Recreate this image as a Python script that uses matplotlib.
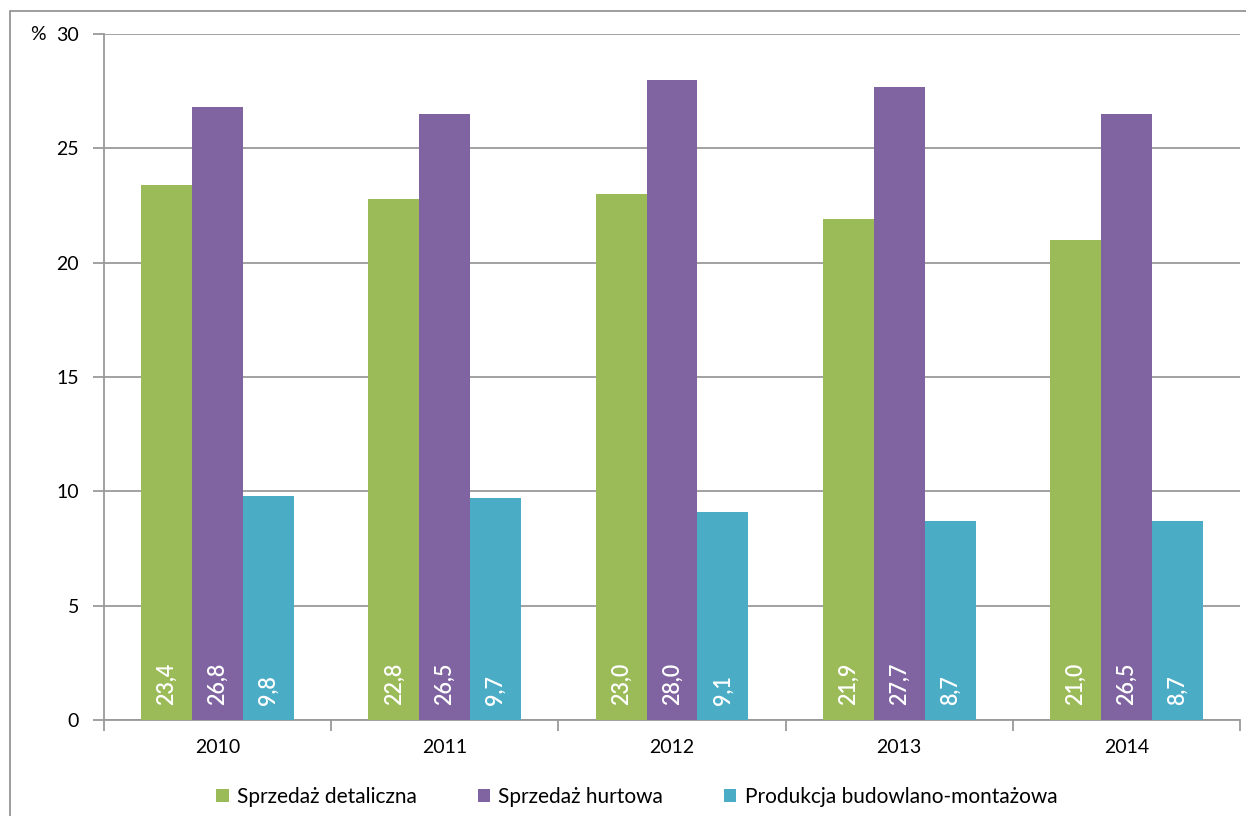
import numpy as np
import matplotlib.pyplot as plt
from matplotlib.patches import Rectangle

plt.rcParams['font.family'] = ['Lato', 'DejaVu Sans']

years = ["2010", "2011", "2012", "2013", "2014"]
detaliczna = [23.4, 22.8, 23.0, 21.9, 21.0]
hurtowa = [26.8, 26.5, 28.0, 27.7, 26.5]
budowlana = [9.8, 9.7, 9.1, 8.7, 8.7]
labels = ["Sprzedaż detaliczna", "Sprzedaż hurtowa", "Produkcja budowlano-montażowa"]
colors = ["#9BBB59", "#8064A2", "#4BACC6"]

fig = plt.figure(figsize=(12.46, 8.16), dpi=100)
ax = fig.add_axes([104 / 1246, 1 - 720 / 816, (1240 - 104) / 1246, (720 - 34) / 816])

# outer frame
fig.patches.append(Rectangle((10 / 1246, -0.1), 1.2, 1 - 11 / 816 + 0.1, transform=fig.transFigure,
                             fill=False, edgecolor="#8c8c8c", linewidth=1.2))

x = np.arange(len(years))
w = 0.224
series = [detaliczna, hurtowa, budowlana]
for i, (vals, c, lab) in enumerate(zip(series, colors, labels)):
    pos = x + (i - 1) * w
    ax.bar(pos, vals, width=w, color=c, label=lab, zorder=3)
    for p, v in zip(pos, vals):
        ax.text(p, 0.65, f"{v:.1f}".replace(".", ","), rotation=90, ha="center", va="bottom",
                color="white", fontsize=15.5, fontweight="semibold", zorder=4)

ax.set_xlim(-0.5, 4.5)
ax.set_ylim(0, 30)
ax.set_yticks(range(0, 31, 5))
ax.yaxis.grid(True, color="#9a9a9a", linewidth=1.3, zorder=0)
ax.set_xticks(np.arange(-0.5, 5, 1))
ax.set_xticklabels([])
ax.set_xticks(x, minor=True)
ax.set_xticklabels(years, minor=True)
ax.tick_params(axis="x", which="major", length=8, color="#9a9a9a", width=1.3, direction="out")
ax.tick_params(axis="x", which="minor", length=0, labelsize=14, pad=14)
ax.tick_params(axis="y", length=8, color="#9a9a9a", width=1.3, labelsize=14, pad=10)
for s in ["top", "right"]:
    ax.spines[s].set_visible(False)
for s in ["left", "bottom"]:
    ax.spines[s].set_color("#9a9a9a")
    ax.spines[s].set_linewidth(1.3)

fig.text(38 / 1246, 1 - 34 / 816, "%", fontsize=14, ha="center", va="center")

ax.legend(loc="upper center", bbox_to_anchor=(0.469, -0.07), ncol=3, frameon=False,
          fontsize=15, handlelength=0.6, handleheight=0.6, handletextpad=0.4, columnspacing=2.9)

fig.savefig("out.png", dpi=100)
